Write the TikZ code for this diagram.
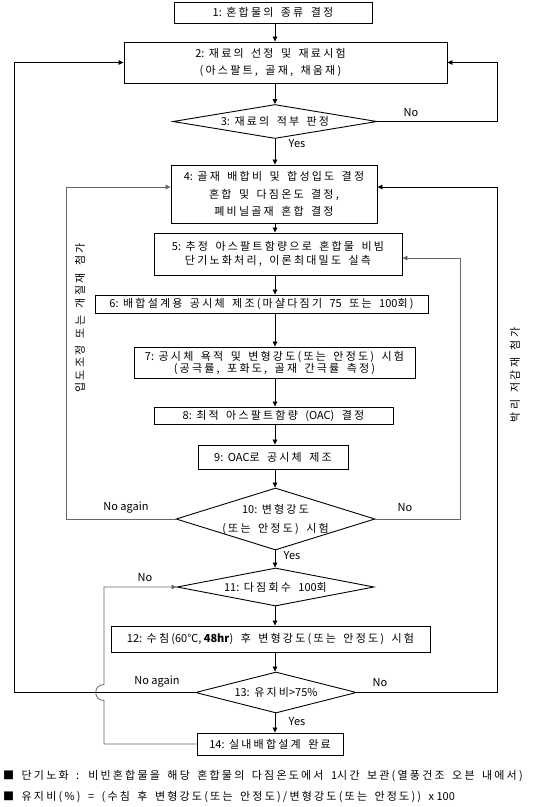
\documentclass[tikz,border=0pt]{standalone}
\usepackage{fontspec}
\setmainfont{Noto Sans CJK KR}
\newfontfamily\kr[LetterSpace=20,WordSpace=1.6]{Noto Sans CJK KR}
\newcommand{\ltn}[1]{{\normalfont\fontsize{11}{12.5}\selectfont #1}}
\newcommand{\stepno}[1]{\ltn{#1:}\hspace{4.5pt}}
\usetikzlibrary{shapes.geometric,arrows.meta,calc}
\begin{document}
\begin{tikzpicture}[x=1pt,y=-1pt,
  txt/.style={font=\kr\fontsize{11}{12.5}\selectfont,align=center,inner sep=0pt},
  box/.style={txt,draw,line width=0.9pt},
  dia/.style={draw,diamond,line width=0.9pt,inner sep=0pt},
  conn/.style={line width=0.8pt},
  arr/.style={conn,-{Triangle[length=5pt,width=4.5pt]}},
  gl/.style={draw=black!60},
  lbl/.style={font=\fontsize{11}{12}\selectfont,inner sep=0pt},
]
\useasboundingbox[fill=white] (0,0) rectangle (540,807);
% boxes
\node[box,minimum width=198pt,minimum height=21pt] (b1) at (273,12.5) {\stepno{1}혼합물의 종류 결정};
\node[box,minimum width=323pt,minimum height=41pt,label={[txt,xshift=-15pt]center:\stepno{2}재료의 선정 및 재료시험\\[4.5pt](아스팔트, 골재, 채움재)}] (b2) at (285.5,62.5) {};
\node[dia,minimum width=204pt,minimum height=34pt,label={[txt]center:\stepno{3}재료의 적부 판정}] (d3) at (275,121.5) {};
\node[box,minimum width=206pt,minimum height=58pt] (b4) at (274,194) {\stepno{4}골재 배합비 및 합성입도 결정\\[5.5pt]혼합 및 다짐온도 결정,\\[5pt]폐비닐골재 혼합 결정};
\node[box,minimum width=248pt,minimum height=42pt] (b5) at (278,254) {\stepno{5}추정 아스팔트함량으로 혼합물 비빔\\[1.5pt]단기노화처리, 이론최대밀도 실측};
\node[box,minimum width=333pt,minimum height=18pt] (b6) at (261.5,304) {\stepno{6}배합설계용 공시체 제조(마샬다짐기 \ltn{75} 또는 \ltn{100}회)};
\node[box,minimum width=281pt,minimum height=31pt] (b7) at (274.5,362.5) {\stepno{7}공시체 욕적 및 변형강도(또는 안정도) 시험\\[-0.5pt](공극률, 포화도, 골재 간극률 측정)};
\node[box,minimum width=239pt,minimum height=17pt] (b8) at (273.5,415.5) {\stepno{8}최적 아스팔트함량 (\ltn{OAC}) 결정};
\node[box,minimum width=150pt,minimum height=24pt] (b9) at (273,457) {\stepno{9}\ltn{OAC}로 공시체 제조};
\node[dia,minimum width=199pt,minimum height=62pt,label={[txt]center:\stepno{10}변형강도\\[6.5pt](또는 안정도) 시험}] (d10) at (275.5,519) {};
\node[dia,minimum width=197pt,minimum height=38pt,label={[txt]center:\stepno{11}다짐회수 \ltn{100}회}] (d11) at (275.5,587) {};
\node[box,minimum width=319pt,minimum height=26pt] (b12) at (270.5,639) {\stepno{12}수침(\ltn{60℃, \bfseries 48hr}) 후 변형강도(또는 안정도) 시험};
\node[dia,minimum width=161pt,minimum height=41pt,label={[txt]center:\stepno{13}유지비\ltn{>75\%}}] (d13) at (276,692.5) {};
\node[box,minimum width=146pt,minimum height=22pt] (b14) at (270,744) {\stepno{14}실내배합설계 완료};
% spine and loop columns
\coordinate (sp) at (275,0);
\coordinate (xr) at (497,0);
\coordinate (xl) at (14,0);
\coordinate (xl2) at (66,0);
\coordinate (xr2) at (460,0);
\coordinate (xh) at (104,0);
% main flow
\draw[arr] (b1.south -| sp) -- (b2.north -| sp);
\draw[arr] (b2.south -| sp) -- (d3.north);
\draw[arr] (d3.south) -- (b4.north -| sp);
\draw[arr] (b4.south -| sp) -- (b5.north -| sp);
\draw[arr] (b5.south -| sp) -- (b6.north -| sp);
\draw[arr] (b6.south -| sp) -- (b7.north -| sp);
\draw[arr] (b7.south -| sp) -- (b8.north -| sp);
\draw[arr] (b8.south -| sp) -- (b9.north -| sp);
\draw[arr] (b9.south -| sp) -- (d10.north -| sp);
\draw[arr] (d10.south -| sp) -- (d11.north -| sp);
\draw[arr] (d11.south -| sp) -- (b12.north -| sp);
\draw[arr] (b12.south -| sp) -- (d13.north -| sp);
\draw[arr] (d13.south -| sp) -- (b14.north -| sp);
% loops
\draw[arr] (d3.east) -- (d3.east -| xr) |- (b2.east);
\draw[arr] (d13.west) -- (d13.west -| xl) |- (b2.west);
\draw[arr] (d13.east) -- (d13.east -| xr) |- ([yshift=7pt]b4.east);
\draw[arr,gl] (d10.west) -- (d10.west -| xl2) |- ([yshift=7pt]b4.west);
\draw[arr,gl] (d10.east) -- (d10.east -| xr2) |- ([yshift=-4pt]b5.east);
\draw[arr,gl] (b14.west) -- (b14.west -| xh) -- ($(d13.west -| xh)+(0,8)$)
  .. controls +(-11,0) and +(-11,0) .. ($(d13.west -| xh)+(0,-8)$) -- (d11.west -| xh) -- (d11.west);
% labels
\node[lbl] (l3n) at (411,113) {No};
\node[lbl] (l3y) at (297,144) {Yes};
\node[lbl] (l10a) at (126,508) {No again};
\node[lbl] (l10n) at (405,508) {No};
\node[lbl] (l10y) at (292,556) {Yes};
\node[lbl] (l11n) at (145,578) {No};
\node[lbl] (l13a) at (157,682) {No again};
\node[lbl] (l13n) at (380,683) {No};
\node[lbl] (l13y) at (297,722) {Yes};
\node[txt,rotate=90] (vt1) at (80,318) {입도조정 또는 개질재 첨가};
\node[txt,rotate=90] (vt2) at (515,375) {박리 저감재 첨가};
% footnotes
\node[txt,anchor=west] (f1) at (3,776) {■ 단기노화 : 비빈혼합물을 해당 혼합물의 다짐온도에서 \ltn{1}시간 보관(열풍건조 오븐 내에서)};
\node[txt,anchor=west] (f2) at (3,797) {■ 유지비(\%) = (수침 후 변형강도(또는 안정도)/변형강도(또는 안정도)) \ltn{x 100}};
\end{tikzpicture}
\end{document}
